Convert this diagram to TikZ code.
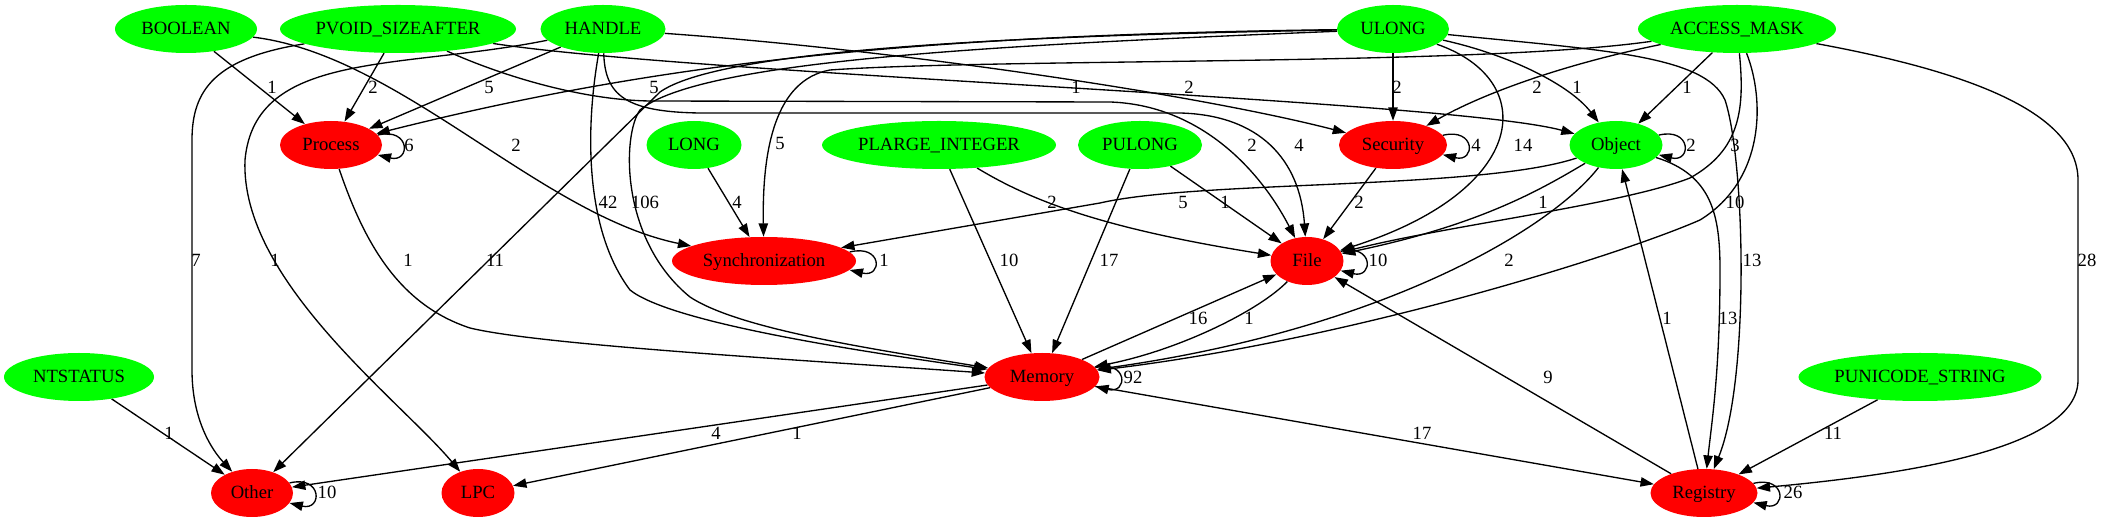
\documentclass[tikz,border=0pt]{standalone}
\usepackage{fontspec}
\setmainfont{Liberation Serif}
\usetikzlibrary{shapes.geometric,arrows.meta}
\pgfdeclarelayer{bg}
\pgfsetlayers{bg,main}
\definecolor{gvgreen}{HTML}{00FF00}
\definecolor{gvred}{HTML}{FF0000}
\newcommand\gvloop[2]{\draw[edge] (#1.#2) .. controls +(33,-8) and +(33,8) .. (#1.-#2);}
\begin{document}
\begin{tikzpicture}[x=0.75pt,y=-0.75pt,
  every node/.style={font=\fontsize{14}{16.8}\selectfont},
  nodebase/.style={ellipse, inner sep=0pt, minimum height=36pt, text height=12pt, text depth=3pt},
  gn/.style={nodebase, fill=gvgreen, minimum width=#1*0.75pt},
  rn/.style={nodebase, fill=gvred, minimum width=#1*0.75pt},
  lbl/.style={inner sep=0pt},
  edge/.style={draw=black, line width=1pt, -{Triangle[length=10pt,width=7pt]}}]
\useasboundingbox (0,0) rectangle (2103,523);
% nodes
\node[gn=142] (BOOL) at (186,29) {BOOLEAN};
\node[gn=236] (PVOID) at (398,29) {PVOID\_SIZEAFTER};
\node[gn=125] (HANDLE) at (603,29) {HANDLE};
\node[gn=112] (ULONG) at (1393,29) {ULONG};
\node[gn=198] (ACCESS) at (1737,29) {ACCESS\_MASK};
\node[rn=102] (Process) at (331,145) {Process};
\node[gn=95] (LONG) at (694,145) {LONG};
\node[gn=234] (PLARGE) at (939,145) {PLARGE\_INTEGER};
\node[gn=124] (PULONG) at (1140,145) {PULONG};
\node[rn=108] (Security) at (1393,145) {Security};
\node[gn=93] (Object) at (1616,145) {Object};
\node[rn=184] (Sync) at (764,261) {Synchronization};
\node[rn=73] (File) at (1307,261) {File};
\node[gn=150] (NTSTATUS) at (79,377) {NTSTATUS};
\node[rn=115] (Memory) at (1042,377) {Memory};
\node[gn=243] (PUNI) at (1920,377) {PUNICODE\_STRING};
\node[rn=82] (Other) at (252,493) {Other};
\node[rn=73] (LPC) at (478,493) {LPC};
\node[rn=107] (Registry) at (1704,493) {Registry};
% edges
\begin{pgfonlayer}{bg}
\fill[white] (0,0) rectangle (2103,523);
\draw[edge] (BOOL) -- (Process);
\draw[edge] (BOOL) .. controls (400,55) and (540,215) .. (Sync);
\draw[edge] (PVOID) -- (Process);
\draw[edge] (PVOID) .. controls (215,58) and (192,90) .. (192,140) -- (192,370) .. controls (192,420) and (212,450) .. (Other);
\draw[edge] (PVOID) .. controls (700,75) and (1450,100) .. (Object);
\draw[edge] (PVOID) .. controls (500,75) and (580,100) .. (650,101) -- (1110,102) .. controls (1200,105) and (1260,170) .. (File);
\draw[edge] (HANDLE) -- (Process);
\draw[edge] (HANDLE) .. controls (400,70) and (255,50) .. (245,160) .. controls (240,280) and (400,400) .. (LPC);
\draw[edge] (HANDLE) .. controls (585,130) and (585,230) .. (630,290) .. controls (670,322) and (850,350) .. (Memory);
\draw[edge] (HANDLE) .. controls (605,95) and (625,112) .. (700,113) -- (1180,113) .. controls (1260,115) and (1300,160) .. (File);
\draw[edge] (HANDLE) .. controls (900,50) and (1200,95) .. (Security);
\draw[edge] (ULONG) .. controls (900,35) and (650,65) .. (Process);
\draw[edge] (ULONG) .. controls (1000,36) and (720,50) .. (660,92) -- (Other);
\draw[edge] (ULONG) .. controls (1000,45) and (700,60) .. (640,110) .. controls (622,135) and (620,240) .. (690,297) .. controls (740,330) and (880,350) .. (Memory);
\draw[edge] (ULONG) -- (Security);
\draw[edge] (ULONG) .. controls (1510,55) and (1570,85) .. (Object);
\draw[edge] (ULONG) .. controls (1540,80) and (1530,190) .. (File);
\draw[edge] (ULONG) .. controls (1600,50) and (1705,55) .. (1725,100) .. controls (1745,160) and (1750,380) .. (Registry);
\draw[edge] (ACCESS) .. controls (1560,65) and (1480,95) .. (Security);
\draw[edge] (ACCESS) -- (Object);
\draw[edge] (ACCESS) .. controls (1745,110) and (1740,150) .. (1690,178) .. controls (1620,205) and (1450,225) .. (File);
\draw[edge] (ACCESS) .. controls (1765,100) and (1765,180) .. (1700,220) .. controls (1620,255) and (1350,340) .. (Memory);
\draw[edge] (ACCESS) .. controls (1960,70) and (2078,110) .. (2078,180) -- (2078,380) .. controls (2078,450) and (1900,475) .. (Registry);
\draw[edge] (ACCESS) .. controls (1480,66) and (1000,58) .. (830,70) .. controls (775,80) and (762,150) .. (Sync);
\draw[edge] (Object) .. controls (1480,190) and (1200,180) .. (1100,203) -- (Sync);
\draw[edge] (Object) .. controls (1540,190) and (1480,225) .. (File);
\draw[edge] (Object) .. controls (1550,230) and (1380,330) .. (Memory);
\draw[edge] (Object) .. controls (1712,175) and (1720,215) .. (1720,270) .. controls (1720,370) and (1712,420) .. (Registry);
\draw[edge] (Registry) -- (Object);
\draw[edge] (Registry) -- (File);
\draw[edge] (Memory) -- (File);
\draw[edge] (File) .. controls (1260,310) and (1180,350) .. (Memory);
\draw[edge] (Memory) -- (Other);
\draw[edge] (Memory) -- (LPC);
\draw[edge] (Memory) -- (Registry);
\draw[edge] (Process) .. controls (365,245) and (400,305) .. (470,328) .. controls (540,345) and (800,360) .. (Memory);
\draw[edge] (PLARGE) -- (Memory);
\draw[edge] (PLARGE) .. controls (1030,200) and (1100,228) .. (File);
\draw[edge] (PULONG) -- (Memory);
\draw[edge] (PULONG) -- (File);
\draw[edge] (LONG) -- (Sync);
\draw[edge] (Security) -- (File);
\draw[edge] (NTSTATUS) -- (Other);
\draw[edge] (PUNI) -- (Registry);
\gvloop{Process}{12.2}
\gvloop{Security}{11.5}
\gvloop{Object}{13.3}
\gvloop{Sync}{6.8}
\gvloop{File}{16.8}
\gvloop{Memory}{10.8}
\gvloop{Other}{15}
\gvloop{Registry}{11.6}
\end{pgfonlayer}
% labels
\node[lbl] (l01) at (272,87) {1};
\node[lbl] (l02) at (373,87) {2};
\node[lbl] (l03) at (489,87) {5};
\node[lbl] (l04) at (654,87) {5};
\node[lbl] (l05) at (516,145) {2};
\node[lbl] (l06) at (409,145) {6};
\node[lbl] (l07) at (196,260) {7};
\node[lbl] (l08) at (275,260) {1};
\node[lbl] (l09) at (408,260) {1};
\node[lbl] (l10) at (495,260) {11};
\node[lbl] (l11) at (608,202) {42};
\node[lbl] (l12) at (645,202) {106};
\node[lbl] (l13) at (737,202) {4};
\node[lbl] (l14) at (780,143) {5};
\node[lbl] (l15) at (884,260) {1};
\node[lbl] (l16) at (1009,260) {10};
\node[lbl] (l17) at (1109,260) {17};
\node[lbl] (l18) at (1052,202) {2};
\node[lbl] (l19) at (1225,202) {1};
\node[lbl] (l20) at (1183,202) {5};
\node[lbl] (l21) at (1076,87) {1};
\node[lbl] (l22) at (1189,87) {2};
\node[lbl] (l23) at (1252,145) {2};
\node[lbl] (l24) at (1299,145) {4};
\node[lbl] (l25) at (1397,87) {2};
\node[lbl] (l26) at (1537,87) {2};
\node[lbl] (l27) at (1577,87) {1};
\node[lbl] (l28) at (1687,87) {1};
\node[lbl] (l29) at (1476,145) {4};
\node[lbl] (l30) at (1523,145) {14};
\node[lbl] (l31) at (1691,145) {2};
\node[lbl] (l32) at (1735,145) {3};
\node[lbl] (l33) at (1359,202) {2};
\node[lbl] (l34) at (1543,202) {1};
\node[lbl] (l35) at (1735,202) {10};
\node[lbl] (l36) at (1378,260) {10};
\node[lbl] (l37) at (1509,260) {2};
\node[lbl] (l38) at (1752,260) {13};
\node[lbl] (l39) at (2087,260) {28};
\node[lbl] (l40) at (1198,318) {16};
\node[lbl] (l41) at (1249,318) {1};
\node[lbl] (l42) at (1133,377) {92};
\node[lbl] (l43) at (1548,377) {9};
\node[lbl] (l44) at (1667,318) {1};
\node[lbl] (l45) at (1728,318) {13};
\node[lbl] (l46) at (1833,433) {11};
\node[lbl] (l47) at (1422,433) {17};
\node[lbl] (l48) at (169,433) {1};
\node[lbl] (l49) at (716,433) {4};
\node[lbl] (l50) at (797,433) {1};
\node[lbl] (l51) at (327,492) {10};
\node[lbl] (l52) at (1793,492) {26};
\end{tikzpicture}
\end{document}
